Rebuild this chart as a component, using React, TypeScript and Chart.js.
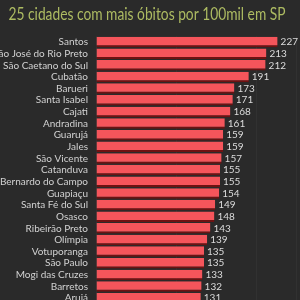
import React, { useEffect, useRef } from "react";
import { Chart, registerables } from "chart.js";
Chart.register(...registerables);

const titleText = "25 cidades com mais óbitos por 100mil em SP";
const cities = [
  "Santos", "São José do Rio Preto", "São Caetano do Sul", "Cubatão", "Barueri",
  "Santa Isabel", "Cajati", "Andradina", "Guarujá", "Jales", "São Vicente",
  "Catanduva", "São Bernardo do Campo", "Guapiaçu", "Santa Fé do Sul", "Osasco",
  "Ribeirão Preto", "Olímpia", "Votuporanga", "São Paulo", "Mogi das Cruzes",
  "Barretos", "Arujá",
];
const deaths = [227, 213, 212, 191, 173, 171, 168, 161, 159, 159, 157, 155, 155, 154, 149, 148, 143, 139, 135, 135, 133, 132, 131];

const valueLabels = {
  id: "valueLabels",
  afterDatasetsDraw(chart: any) {
    const ctx = chart.ctx;
    const meta = chart.getDatasetMeta(0);
    ctx.save();
    ctx.font = "10px Lato, 'Open Sans', sans-serif";
    ctx.fillStyle = "#dcdcdc";
    ctx.textBaseline = "middle";
    ctx.textAlign = "left";
    meta.data.forEach((bar: any, i: number) => {
      ctx.fillText(String(deaths[i]), bar.x + 3, bar.y);
    });
    ctx.restore();
  },
};

// Title drawn with a width limit so it keeps the narrow look of the original
const narrowTitle = {
  id: "narrowTitle",
  afterDraw(chart: any) {
    const ctx = chart.ctx;
    ctx.save();
    ctx.font = "17px Lato, 'Open Sans', sans-serif";
    ctx.fillStyle = "#adbb62";
    ctx.textAlign = "center";
    ctx.textBaseline = "alphabetic";
    ctx.fillText(titleText, 147, 19.5, 277);
    ctx.restore();
  },
};

export default function App() {
  const ref = useRef<HTMLCanvasElement>(null);
  useEffect(() => {
    document.body.style.margin = "0";
    document.body.style.background = "#2a2a2a";
    const chart = new Chart(ref.current!, {
      type: "bar",
      data: {
        labels: cities,
        datasets: [{
          data: deaths,
          backgroundColor: "#f5555b",
          borderColor: "#6e1212",
          borderWidth: { top: 0, right: 0, bottom: 2, left: 0 },
          borderSkipped: false,
          barPercentage: 0.95,
          categoryPercentage: 0.95,
        }],
      },
      options: {
        indexAxis: "y",
        animation: false,
        responsive: false,
        layout: { padding: { top: 36.2, right: 4, bottom: 0, left: 0 } },
        plugins: {
          legend: { display: false },
          tooltip: { enabled: false },
          title: { display: false },
        },
        scales: {
          x: {
            min: 0,
            max: 250,
            ticks: { display: false, stepSize: 100 },
            grid: { color: "#313131", drawTicks: false },
            border: { display: false },
          },
          y: {
            ticks: {
              color: "#d2d2d2",
              font: { family: "Lato, 'Open Sans', sans-serif", size: 10 },
              padding: 8,
              autoSkip: false,
            },
            grid: { display: false, drawTicks: false },
            border: { display: false },
            afterFit(scale: any) { scale.width = 96; },
          },
        },
      },
      plugins: [valueLabels, narrowTitle],
    });
    return () => chart.destroy();
  }, []);
  return (
    <div style={{ position: "fixed", left: 0, top: 0, width: 300, height: 318, background: "#2a2a2a" }}>
      <canvas ref={ref} width={300} height={318} />
    </div>
  );
}
